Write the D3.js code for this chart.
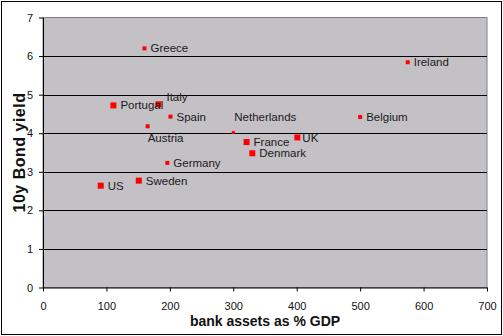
<!DOCTYPE html>
<html>
<head>
<meta charset="utf-8">
<script src="https://cdn.jsdelivr.net/npm/d3@7"></script>
<style>
  html, body { margin: 0; padding: 0; background: #fff; }
  svg { display: block; font-family: "Liberation Sans", Arial, sans-serif; }
</style>
</head>
<body>
<svg id="chart" width="503" height="336"></svg>
<script>
// Bank assets (% of GDP) against 10-year government bond yield
const countries = ["Greece", "Portugal", "Italy", "Spain", "Austria", "Netherlands", "France",
                   "Denmark", "UK", "Belgium", "Ireland", "Germany", "Sweden", "US"];
const bankAssets = [160, 111, 182, 201, 165, 300, 321, 330, 401, 500, 575, 196, 151, 91];
const bondYield = [6.2, 4.72, 4.75, 4.43, 4.18, 4.02, 3.77, 3.48, 3.89, 4.42, 5.84, 3.23, 2.77, 2.64];
const xTicks = [0, 100, 200, 300, 400, 500, 600, 700];
const yTicks = [0, 1, 2, 3, 4, 5, 6, 7];

// marker size and label placement per country
const markerSize = { Portugal: 6, Italy: 6, France: 6, Denmark: 6, UK: 6, Sweden: 6, US: 6, Netherlands: 3 };
const labelPlace = {
  Italy: { dx: 8, dy: -7 },
  Austria: { dx: 0, dy: 12 },
  Netherlands: { dx: 1, dy: -15 },
  UK: { dx: 5, dy: 1 }
};

const svg = d3.select("#chart");
const W = 503, H = 336;
const plot = { left: 43, right: 487, top: 17.5, bottom: 287.5 };

const x = d3.scaleLinear().domain([0, 700]).range([plot.left, plot.right]);
const y = d3.scaleLinear().domain([0, 7]).range([plot.bottom, plot.top]);

// outer frame
svg.append("rect").attr("x", 1.5).attr("y", 1.5).attr("width", W - 3).attr("height", H - 3)
  .attr("fill", "#fff").attr("stroke", "#000").attr("stroke-width", 1);

// plot area
svg.append("rect")
  .attr("x", plot.left).attr("y", plot.top)
  .attr("width", plot.right - plot.left).attr("height", plot.bottom - plot.top)
  .attr("fill", "#c3c1c5").attr("stroke", "#808080").attr("stroke-width", 1);

// horizontal gridlines
svg.append("g").selectAll("line")
  .data(yTicks.filter(d => d > 0 && d < 7))
  .join("line")
  .attr("x1", plot.left).attr("x2", plot.right)
  .attr("y1", d => Math.round(y(d)) + 0.5).attr("y2", d => Math.round(y(d)) + 0.5)
  .attr("stroke", "#000").attr("stroke-width", 1);

// axes
const xAxis = svg.append("g")
  .attr("transform", `translate(0,${plot.bottom})`)
  .call(d3.axisBottom(x).tickValues(xTicks).tickFormat(d3.format("d"))
    .tickSize(4).tickPadding(11).tickSizeOuter(0));
const yAxis = svg.append("g")
  .attr("transform", `translate(${plot.left},0)`)
  .call(d3.axisLeft(y).tickValues(yTicks).tickFormat(d3.format("d"))
    .tickSize(4).tickPadding(6).tickSizeOuter(0));

[xAxis, yAxis].forEach(g => {
  g.select(".domain").attr("stroke", "#000");
  g.selectAll(".tick line").attr("stroke", "#000");
  g.selectAll(".tick text")
    .attr("fill", "#111")
    .style("font-size", "11px")
    .style("font-family", "'Liberation Sans', Arial, sans-serif");
});

// points
const pts = countries.map((c, i) => ({ name: c, xv: bankAssets[i], yv: bondYield[i] }));

svg.append("g").selectAll("rect")
  .data(pts)
  .join("rect")
  .attr("x", d => x(d.xv) - (markerSize[d.name] || 4) / 2)
  .attr("y", d => y(d.yv) - (markerSize[d.name] || 4) / 2)
  .attr("width", d => markerSize[d.name] || 4)
  .attr("height", d => markerSize[d.name] || 4)
  .attr("fill", "#ff0000");

svg.append("g").selectAll("text")
  .data(pts)
  .join("text")
  .attr("x", d => {
    const p = labelPlace[d.name];
    const s = markerSize[d.name] || 4;
    return x(d.xv) + (p ? p.dx : s / 2 + 4);
  })
  .attr("y", d => {
    const p = labelPlace[d.name];
    return y(d.yv) + (p ? p.dy : 0);
  })
  .attr("dy", "0.35em")
  .attr("fill", "#1a1a1a")
  .style("font-size", "11.5px")
  .text(d => d.name);

// axis titles
svg.append("text")
  .attr("x", 265)
  .attr("y", 326)
  .attr("text-anchor", "middle")
  .attr("fill", "#111")
  .style("font-size", "14px")
  .style("font-weight", "bold")
  .text("bank assets as % GDP");

svg.append("text")
  .attr("transform", `translate(25,${(plot.top + plot.bottom) / 2}) rotate(-90)`)
  .attr("text-anchor", "middle")
  .attr("fill", "#111")
  .style("font-size", "16px")
  .style("font-weight", "bold")
  .style("letter-spacing", "0.5px")
  .text("10y Bond yield");
</script>
</body>
</html>
